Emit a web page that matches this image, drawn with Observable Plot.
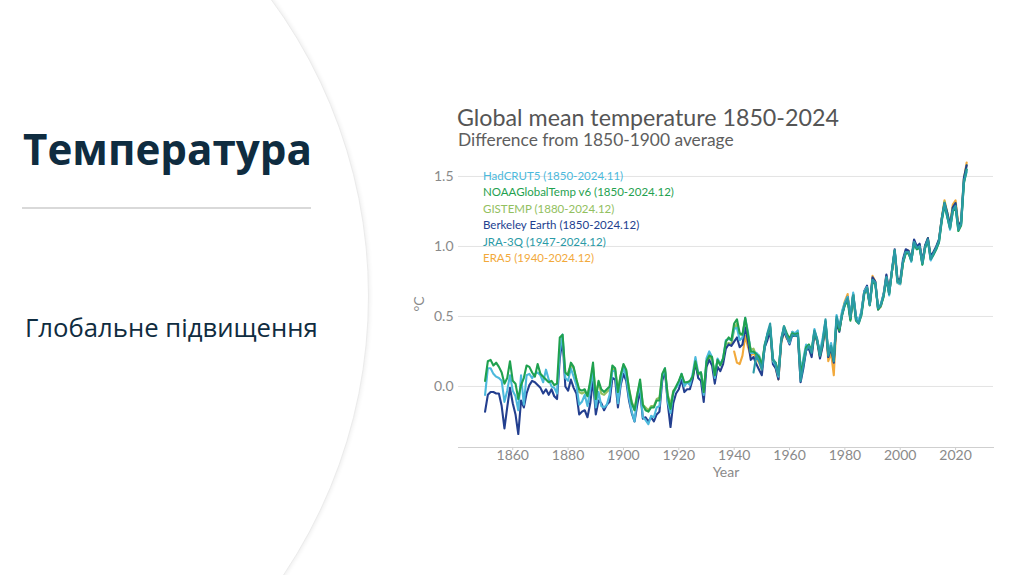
<!DOCTYPE html>
<html>
<head>
<meta charset="utf-8">
<script src="https://cdn.jsdelivr.net/npm/d3@7"></script>
<script src="https://cdn.jsdelivr.net/npm/@observablehq/plot@0.6"></script>
<style>
  html, body { margin: 0; padding: 0; }
  body { width: 1009px; height: 575px; overflow: hidden; background: #ffffff; position: relative; font-family: "Open Sans", sans-serif; }
  #circle { position: absolute; left: -633px; top: -205px; width: 1000px; height: 1000px; border-radius: 50%;
            background: #fff; border: 1px solid #ebebeb; box-shadow: 0 0 4px 1px rgba(0,0,0,0.07); }
  .abs { position: absolute; white-space: nowrap; line-height: 1; }
  #t1 { left: 23px; top: 128px; font-weight: 700; color: #0f2c40; font-size: 44px; }
  #rule { position: absolute; left: 22px; top: 207px; width: 289px; height: 2px; background: #d9d9d9; }
  #t2 { left: 25px; top: 315px; color: #0f2c40; font-size: 21px; }
  #ctitle { left: 457px; top: 106px; color: #555; font-family: Lato, sans-serif; font-size: 23px; }
  #csub { left: 458px; top: 131px; color: #5e5e5e; font-family: Lato, sans-serif; font-size: 17px; }
  #chart { position: absolute; left: 400px; top: 150px; }
  #legend { position: absolute; left: 483px; top: 169px; font-family: Lato, sans-serif; font-size: 11.5px; }
  #legend div { height: 16.4px; line-height: 14px; white-space: nowrap; }
</style>
</head>
<body>
<div id="circle"></div>
<div id="t1" class="abs">Температура</div>
<div id="rule"></div>
<div id="t2" class="abs">Глобальне підвищення</div>
<div id="ctitle" class="abs">Global mean temperature 1850-2024</div>
<div id="csub" class="abs">Difference from 1850-1900 average</div>
<div id="chart"></div>
<div id="legend"></div>
<script>
// ---- Data (°C, difference from 1850-1900 average) ----
const seriesNames = ["HadCRUT5 (1850-2024.11)", "NOAAGlobalTemp v6 (1850-2024.12)", "GISTEMP (1880-2024.12)",
                     "Berkeley Earth (1850-2024.12)", "JRA-3Q (1947-2024.12)", "ERA5 (1940-2024.12)"];
const seriesColors = ["#4cb9dc", "#1fa14f", "#92c060", "#233f8f", "#2a9aa6", "#f2a93b"];
const seriesStart = [1850, 1850, 1880, 1850, 1947, 1940];
const xTicks = [1860, 1880, 1900, 1920, 1940, 1960, 1980, 2000, 2020];
const yTicks = [0, 0.5, 1.0, 1.5];

const hadcrut5 = [
 -0.06,0.13,0.13,0.09,0.07,0.06,0.04,-0.11,-0.03,0.08,
 -0.03,-0.07,-0.17,0.08,-0.13,0.08,0.09,0.06,0.09,0.10,
 0.08,0.03,0.12,0.05,0.00,-0.01,-0.05,0.25,0.37,0.06,
 0.04,0.13,0.07,0.01,-0.13,-0.11,-0.06,-0.14,-0.02,0.11,
 -0.15,-0.04,-0.14,-0.15,-0.13,-0.06,0.11,0.11,-0.12,0.03,
 0.14,0.07,-0.08,-0.18,-0.25,-0.07,0.00,-0.22,-0.24,-0.27,
 -0.21,-0.22,-0.15,-0.14,0.07,0.13,-0.11,-0.19,-0.05,-0.01,
 0.02,0.09,0.00,0.03,0.01,0.09,0.21,0.10,0.10,-0.06,
 0.20,0.25,0.21,0.06,0.20,0.16,0.20,0.33,0.34,0.33,
 0.41,0.42,0.33,0.35,0.49,0.39,0.24,0.24,0.24,0.22,
 0.13,0.30,0.37,0.42,0.18,0.15,0.07,0.35,0.41,0.36,
 0.31,0.39,0.38,0.40,0.11,0.20,0.30,0.28,0.26,0.41,
 0.33,0.25,0.35,0.47,0.25,0.31,0.21,0.51,0.42,0.54,
 0.60,0.64,0.50,0.67,0.50,0.47,0.54,0.68,0.71,0.59,
 0.76,0.74,0.56,0.59,0.66,0.78,0.65,0.83,0.97,0.74,
 0.73,0.89,0.96,0.96,0.89,1.03,0.98,1.00,0.87,0.99,
 1.04,0.90,0.94,0.98,1.03,1.19,1.29,1.21,1.12,1.25,
 1.28,1.12,1.16,1.46,1.53];

const noaa = [
 0.04,0.18,0.19,0.15,0.17,0.14,0.10,0.02,0.06,0.18,
 0.04,0.02,-0.09,0.01,0.06,0.15,0.14,0.10,0.07,0.16,
 0.09,0.07,0.05,0.03,0.04,0.01,0.02,0.35,0.37,0.10,
 0.08,0.17,0.14,0.05,-0.02,-0.03,-0.02,-0.07,0.04,0.17,
 -0.09,0.04,-0.02,-0.04,-0.02,0.00,0.15,0.13,-0.04,0.08,
 0.16,0.12,-0.02,-0.12,-0.17,-0.06,0.05,-0.13,-0.17,-0.18,
 -0.15,-0.15,-0.10,-0.10,0.09,0.13,-0.07,-0.16,-0.04,0.00,
 0.04,0.09,0.03,0.03,0.04,0.07,0.18,0.09,0.10,-0.04,
 0.18,0.22,0.21,0.08,0.19,0.15,0.20,0.32,0.35,0.33,
 0.45,0.48,0.38,0.37,0.49,0.37,0.25,0.25,0.23,0.21,
 0.15,0.29,0.37,0.43,0.19,0.17,0.09,0.33,0.43,0.38,
 0.34,0.38,0.37,0.38,0.10,0.17,0.28,0.30,0.25,0.39,
 0.33,0.22,0.31,0.46,0.23,0.28,0.19,0.48,0.40,0.51,
 0.58,0.61,0.47,0.65,0.47,0.45,0.51,0.66,0.70,0.58,
 0.75,0.73,0.55,0.58,0.64,0.77,0.66,0.82,0.97,0.75,
 0.74,0.88,0.95,0.95,0.90,1.02,0.98,0.99,0.87,0.99,
 1.04,0.91,0.94,0.98,1.03,1.18,1.30,1.21,1.13,1.25,
 1.28,1.11,1.15,1.45,1.55];

const gistemp = [
 0.10,0.15,0.13,0.05,-0.04,-0.05,-0.04,-0.06,0.02,0.14,
 -0.05,0.03,-0.05,-0.06,-0.04,-0.02,0.13,0.12,-0.03,0.08,
 0.15,0.11,-0.01,-0.11,-0.16,-0.05,0.03,-0.13,-0.15,-0.17,
 -0.14,-0.14,-0.09,-0.08,0.07,0.11,-0.06,-0.13,-0.03,-0.01,
 0.03,0.08,0.02,0.03,0.02,0.06,0.17,0.08,0.10,-0.03,
 0.16,0.21,0.19,0.09,0.19,0.16,0.19,0.30,0.31,0.30,
 0.41,0.45,0.37,0.37,0.48,0.36,0.26,0.27,0.22,0.22,
 0.15,0.28,0.35,0.42,0.19,0.17,0.09,0.33,0.40,0.37,
 0.32,0.39,0.37,0.39,0.12,0.19,0.28,0.29,0.26,0.40,
 0.33,0.23,0.31,0.46,0.24,0.28,0.20,0.47,0.41,0.51,
 0.60,0.64,0.48,0.66,0.49,0.46,0.53,0.67,0.70,0.59,
 0.77,0.74,0.55,0.57,0.65,0.78,0.67,0.82,0.96,0.76,
 0.75,0.89,0.97,0.96,0.90,1.04,0.99,1.01,0.88,1.00,
 1.06,0.92,0.95,0.99,1.05,1.20,1.32,1.24,1.15,1.28,
 1.31,1.13,1.17,1.48,1.58];

const berkeley = [
 -0.18,-0.06,-0.04,-0.04,-0.05,-0.05,-0.14,-0.30,-0.15,-0.01,
 -0.12,-0.20,-0.34,-0.10,-0.15,-0.05,0.01,0.04,0.03,0.01,
 -0.01,-0.05,-0.02,-0.06,-0.02,-0.07,-0.09,0.20,0.34,0.00,
 -0.03,0.05,-0.01,-0.05,-0.20,-0.18,-0.17,-0.22,-0.12,0.05,
 -0.20,-0.10,-0.12,-0.17,-0.13,-0.11,0.06,0.05,-0.15,0.01,
 0.09,0.04,-0.10,-0.19,-0.25,-0.13,-0.03,-0.23,-0.22,-0.25,
 -0.22,-0.25,-0.20,-0.18,0.04,0.11,-0.12,-0.29,-0.12,-0.05,
 -0.02,0.05,-0.04,-0.02,-0.02,0.05,0.17,0.06,0.04,-0.11,
 0.14,0.19,0.15,0.02,0.14,0.11,0.16,0.27,0.30,0.29,
 0.32,0.35,0.28,0.30,0.42,0.32,0.19,0.21,0.16,0.12,
 0.08,0.28,0.33,0.40,0.16,0.13,0.05,0.32,0.39,0.35,
 0.30,0.37,0.36,0.37,0.03,0.13,0.26,0.27,0.21,0.38,
 0.32,0.20,0.29,0.45,0.21,0.27,0.17,0.46,0.39,0.52,
 0.59,0.64,0.48,0.66,0.50,0.46,0.53,0.68,0.72,0.59,
 0.78,0.75,0.55,0.58,0.66,0.80,0.68,0.83,0.98,0.77,
 0.76,0.91,0.98,0.97,0.91,1.05,1.00,1.02,0.89,1.01,
 1.06,0.93,0.96,1.00,1.05,1.20,1.31,1.24,1.15,1.28,
 1.31,1.14,1.18,1.49,1.58];

const jra3q = [
 0.10,0.22,0.18,
 0.12,0.27,0.38,0.45,0.20,0.16,0.08,0.33,0.43,0.36,
 0.32,0.37,0.36,0.37,0.04,0.15,0.26,0.29,0.24,0.40,
 0.34,0.22,0.32,0.48,0.22,0.29,0.18,0.50,0.42,0.51,
 0.59,0.63,0.49,0.65,0.48,0.45,0.52,0.67,0.70,0.58,
 0.76,0.74,0.56,0.58,0.65,0.78,0.66,0.82,0.97,0.75,
 0.74,0.89,0.96,0.96,0.90,1.03,0.99,1.00,0.88,1.00,
 1.05,0.91,0.95,0.99,1.04,1.19,1.31,1.22,1.13,1.26,
 1.29,1.12,1.16,1.46,1.55];

const era5 = [
 0.25,0.17,0.16,0.22,0.36,0.28,0.22,0.24,0.20,0.17,
 0.12,0.29,0.36,0.41,0.17,0.13,0.05,0.31,0.40,0.34,
 0.35,0.38,0.36,0.37,0.06,0.16,0.26,0.28,0.23,0.38,
 0.32,0.21,0.30,0.45,0.18,0.24,0.08,0.47,0.41,0.53,
 0.61,0.66,0.49,0.66,0.49,0.46,0.53,0.68,0.71,0.58,
 0.79,0.75,0.56,0.58,0.66,0.79,0.67,0.82,0.94,0.74,
 0.73,0.88,0.96,0.97,0.90,1.03,0.99,1.01,0.88,1.00,
 1.05,0.92,0.96,0.99,1.04,1.20,1.33,1.24,1.15,1.30,
 1.33,1.15,1.18,1.48,1.60];

const allValues = [hadcrut5, noaa, gistemp, berkeley, jra3q, era5];

// ---- Build long table ----
const rows = [];
allValues.forEach((vals, i) => {
  vals.forEach((v, k) => rows.push({ series: seriesNames[i], year: seriesStart[i] + k, value: v }));
});

// drawing order (last on top)
const drawOrder = [5, 2, 3, 0, 1, 4];

const chart = Plot.plot({
  width: 600,
  height: 330,
  marginLeft: 58,
  marginRight: 7,
  marginTop: 10,
  marginBottom: 33,
  style: { fontFamily: "Lato, sans-serif", fontSize: "14px", color: "#8a8a8a", background: "transparent", overflow: "visible" },
  x: { domain: [1840.4, 2033.7] },
  y: { domain: [-0.436, 1.614] },
  marks: [
    Plot.gridY(yTicks, { stroke: "#e3e3e3", strokeOpacity: 1 }),
    Plot.frame({ anchor: "bottom", stroke: "#cfcfcf" }),
    Plot.axisX(xTicks, { tickSize: 3, stroke: "#cfcfcf", tickPadding: 0, tickFormat: d => String(d),
                         label: "Year", labelAnchor: "center", labelArrow: "none", labelOffset: 29, fill: "#8a8a8a" }),
    Plot.axisY(yTicks, { tickSize: 0, tickPadding: 5, tickFormat: d => d.toFixed(1),
                         label: "°C", labelAnchor: "center", labelArrow: "none", labelOffset: 44, fill: "#8a8a8a" }),
    ...drawOrder.map(i => Plot.line(rows.filter(r => r.series === seriesNames[i]),
        { x: "year", y: "value", stroke: seriesColors[i], strokeWidth: 2.1, strokeLinejoin: "round" }))
  ]
});
document.getElementById("chart").appendChild(chart);

// legend (text)
const leg = document.getElementById("legend");
seriesNames.forEach((n, i) => {
  const d = document.createElement("div");
  d.textContent = n;
  d.style.color = seriesColors[i];
  leg.appendChild(d);
});

// fit text widths to the reference
function fitWidth(el, w) {
  const cur = el.getBoundingClientRect().width;
  const fs = parseFloat(getComputedStyle(el).fontSize);
  el.style.fontSize = (fs * w / cur) + "px";
}
fitWidth(document.getElementById("t1"), 289);
fitWidth(document.getElementById("t2"), 293);
fitWidth(document.getElementById("ctitle"), 382);
fitWidth(document.getElementById("csub"), 276);
</script>
</body>
</html>
